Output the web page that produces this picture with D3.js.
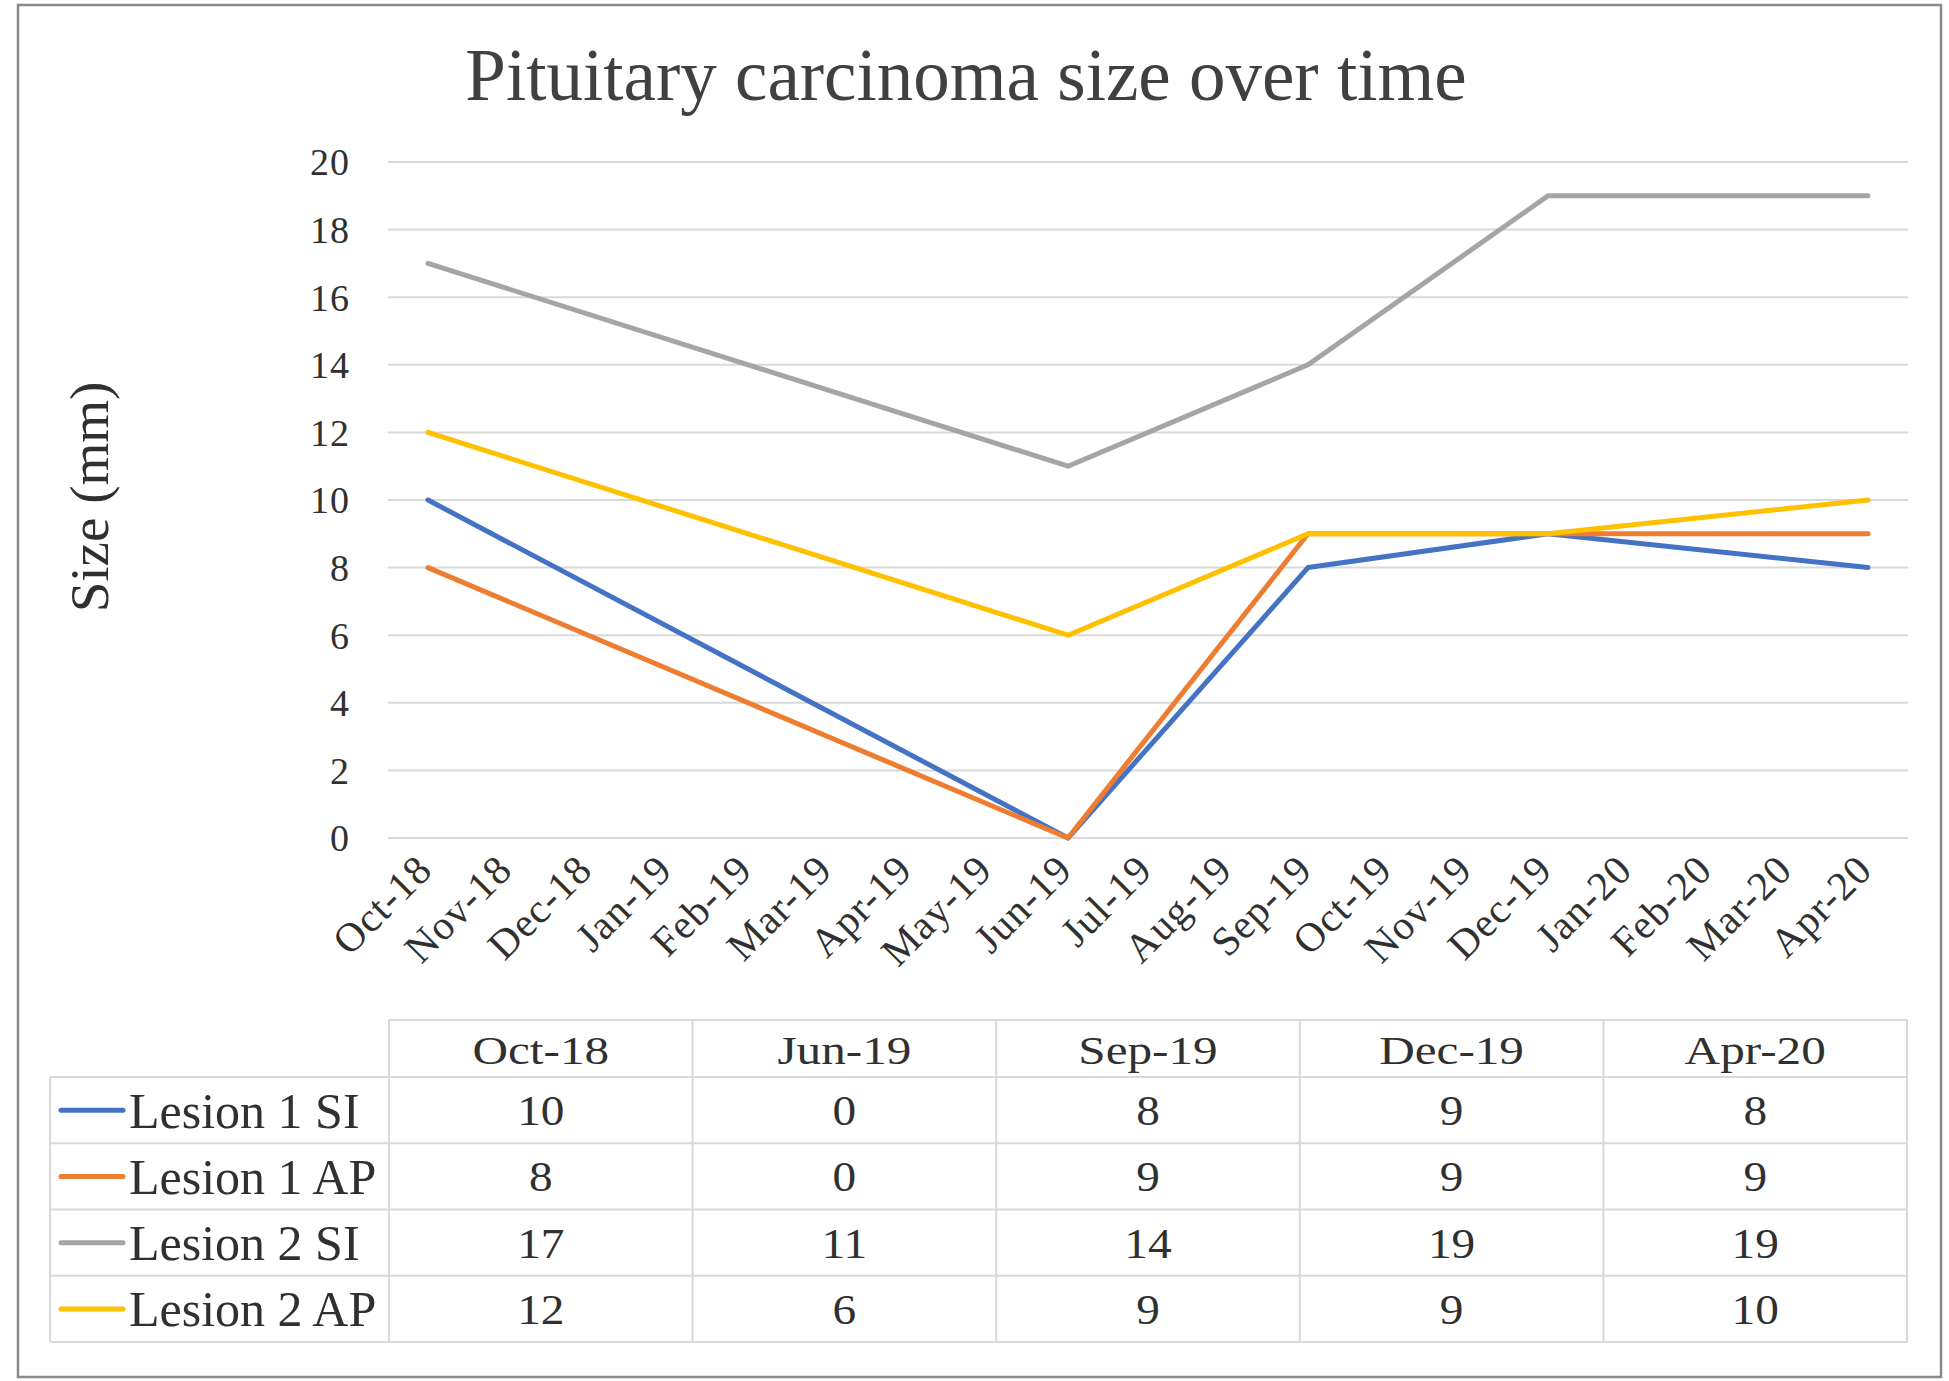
<!DOCTYPE html>
<html>
<head>
<meta charset="utf-8">
<script src="https://cdn.jsdelivr.net/npm/d3@7"></script>
<style>
  html, body { margin: 0; padding: 0; background: #fff; }
  text { font-family: 'Liberation Serif', 'DejaVu Serif', serif; }
</style>
</head>
<body>
<div id="chartContainer"></div>
<script>
// tick labels of the month axis
var months = ['Oct-18', 'Nov-18', 'Dec-18', 'Jan-19', 'Feb-19', 'Mar-19', 'Apr-19',
              'May-19', 'Jun-19', 'Jul-19', 'Aug-19', 'Sep-19', 'Oct-19', 'Nov-19',
              'Dec-19', 'Jan-20', 'Feb-20', 'Mar-20', 'Apr-20'];
var yTicks = [0, 2, 4, 6, 8, 10, 12, 14, 16, 18, 20];

// measurement dates + series
var dates = ['Oct-18', 'Jun-19', 'Sep-19', 'Dec-19', 'Apr-20'];
var seriesNames = ['Lesion 1 SI', 'Lesion 1 AP', 'Lesion 2 SI', 'Lesion 2 AP'];
var lesion1SI = [10, 0, 8, 9, 8];
var lesion1AP = [8, 0, 9, 9, 9];
var lesion2SI = [17, 11, 14, 19, 19];
var lesion2AP = [12, 6, 9, 9, 10];
var colors = ['#4472C4', '#ED7D31', '#A5A5A5', '#FFC000'];

var width  = 1949,
    height = 1381,
    svg    = d3.select('#chartContainer').append('svg')
        .attr('width', width)
        .attr('height', height);

draw([lesion1SI, lesion1AP, lesion2SI, lesion2AP]);

// the table text in the picture is a little wider than the font
function stretch(sel, k) {
    sel.each(function() {
        var len = this.getComputedTextLength();
        d3.select(this)
            .attr('textLength', len * k)
            .attr('lengthAdjust', 'spacingAndGlyphs');
    });
}

function draw(values) {
    var x, y, tx, rowY, line, plot, table, rows,
        textCol = '#303030',
        gridCol = '#d9d9d9';

    // outer chart border
    svg.append('rect')
        .attr('x', 18).attr('y', 5)
        .attr('width', 1923).attr('height', 1372)
        .style('fill', '#fff')
        .style('stroke', '#8a8a8a')
        .style('stroke-width', 2.5);

    svg.append('text')
        .attr('x', 966)
        .attr('y', 100)
        .attr('text-anchor', 'middle')
        .style('font-size', '73px')
        .style('fill', '#404040')
        .text('Pituitary carcinoma size over time');

    x = d3.scaleBand().domain(months).range([388, 1908]);
    y = d3.scaleLinear().domain([0, 20]).range([838, 162]);

    // gridlines
    svg.append('g').selectAll('line')
        .data(yTicks)
        .enter()
        .append('line')
        .attr('x1', 388).attr('x2', 1908)
        .attr('y1', function(d) { return y(d); })
        .attr('y2', function(d) { return y(d); })
        .style('stroke', gridCol)
        .style('stroke-width', 2);

    svg.append('g').selectAll('text')
        .data(yTicks)
        .enter()
        .append('text')
        .attr('x', 350)
        .attr('y', function(d) { return y(d); })
        .attr('dy', '0.35em')
        .attr('text-anchor', 'end')
        .style('font-size', '38px')
        .style('letter-spacing', '1px')
        .style('fill', textCol)
        .text(function(d) { return d; });

    svg.append('text')
        .attr('transform', 'translate(108,' + 497 + ') rotate(-90)')
        .attr('text-anchor', 'middle')
        .style('font-size', '55px')
        .style('fill', textCol)
        .text('Size (mm)');

    // rotated month labels
    svg.append('g').selectAll('text')
        .data(months)
        .enter()
        .append('text')
        .attr('transform', function(d) {
            return 'translate(' + (x(d) + x.bandwidth() / 2 - 4) + ',862) rotate(-45)';
        })
        .attr('dy', '0.35em')
        .attr('text-anchor', 'end')
        .style('font-size', '41px')
        .style('letter-spacing', '1px')
        .style('fill', textCol)
        .text(function(d) { return d; });

    line = d3.line()
        .x(function(d, i) { return x(dates[i]) + x.bandwidth() / 2; })
        .y(function(d) { return y(d); });

    plot = svg.append('g');
    values.forEach(function(v, k) {
        plot.append('path')
            .datum(v)
            .attr('d', line)
            .style('fill', 'none')
            .style('stroke', colors[k])
            .style('stroke-width', 5)
            .style('stroke-linejoin', 'round')
            .style('stroke-linecap', 'round');
    });

    // data table under the chart
    tx = d3.scaleBand().domain(dates).range([389, 1907]);
    rowY = d3.scaleBand().domain(seriesNames).range([1077, 1342]);
    table = svg.append('g')
        .style('stroke', gridCol)
        .style('stroke-width', 2);

    table.append('line').attr('x1', 389).attr('x2', 1907).attr('y1', 1020).attr('y2', 1020);
    table.selectAll('.hrow')
        .data(seriesNames.concat(['end']))
        .enter()
        .append('line')
        .attr('x1', 50).attr('x2', 1907)
        .attr('y1', function(d, i) { return 1077 + i * rowY.bandwidth(); })
        .attr('y2', function(d, i) { return 1077 + i * rowY.bandwidth(); });
    table.append('line').attr('x1', 50).attr('x2', 50).attr('y1', 1077).attr('y2', 1342);
    table.selectAll('.vcol')
        .data(dates.concat(['end']))
        .enter()
        .append('line')
        .attr('x1', function(d, i) { return 389 + i * tx.bandwidth(); })
        .attr('x2', function(d, i) { return 389 + i * tx.bandwidth(); })
        .attr('y1', 1020).attr('y2', 1342);

    svg.append('g').selectAll('text')
        .data(dates)
        .enter()
        .append('text')
        .attr('x', function(d) { return tx(d) + tx.bandwidth() / 2; })
        .attr('y', 1050)
        .attr('dy', '0.35em')
        .attr('text-anchor', 'middle')
        .style('font-size', '41px')
        .style('fill', textCol)
        .text(function(d) { return d; })
        .call(stretch, 1.2);

    rows = svg.append('g').selectAll('g')
        .data(seriesNames)
        .enter()
        .append('g')
        .attr('transform', function(d) {
            return 'translate(0,' + (rowY(d) + rowY.bandwidth() / 2) + ')';
        });

    rows.append('line')
        .attr('x1', 61).attr('x2', 123)
        .style('stroke', function(d, i) { return colors[i]; })
        .style('stroke-width', 5)
        .style('stroke-linecap', 'round');

    rows.append('text')
        .attr('x', 129)
        .attr('dy', '0.35em')
        .style('font-size', '50px')
        .style('fill', textCol)
        .text(function(d) { return d; });

    rows.selectAll('.val')
        .data(function(d, i) { return values[i]; })
        .enter()
        .append('text')
        .attr('x', function(d, i) { return tx(dates[i]) + tx.bandwidth() / 2; })
        .attr('dy', '0.35em')
        .attr('text-anchor', 'middle')
        .style('font-size', '43px')
        .style('fill', textCol)
        .text(function(d) { return d; })
        .call(stretch, 1.1);
}
</script>
</body>
</html>
